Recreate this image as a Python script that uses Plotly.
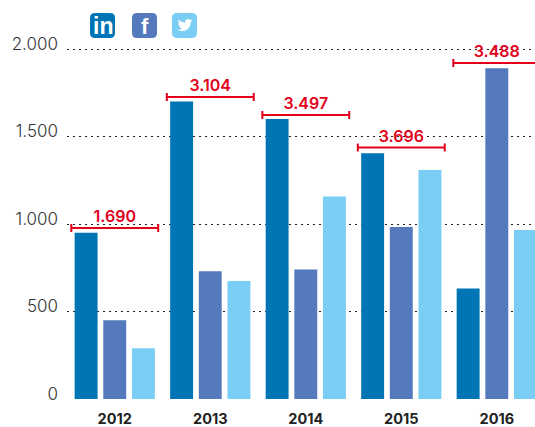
import plotly.graph_objects as go

years = [2012, 2013, 2014, 2015, 2016]
linkedin = [950, 1700, 1600, 1405, 632]
facebook = [450, 730, 740, 983, 1890]
twitter = [290, 674, 1157, 1308, 966]
totals = ["1.690", "3.104", "3.497", "3.696", "3.488"]
bracket_levels = [977, 1726, 1623, 1437, 1920]
y_ticks = [0, 500, 1000, 1500, 2000]
y_tick_labels = ["0", "500", "1.000", "1.500", "2.000"]

W, H = 535, 427
L, B = 67, 28
FONT = "Inter"
RED = "#e2001a"
DARK, MID, LIGHT = "#0075b5", "#547abd", "#7bcef3"


def fx(x):
    return (x - L) / (W - L)


def fy(y):
    return (H - B - y) / (H - B)


def px(x, y):
    return f"{fx(x):.5f},{fy(y):.5f}"


def rounded(x0, y0, size, r):
    x1, y1 = x0 + size, y0 + size
    return (f"M{px(x0 + r, y0)} L{px(x1 - r, y0)} Q{px(x1, y0)} {px(x1, y0 + r)} "
            f"L{px(x1, y1 - r)} Q{px(x1, y1)} {px(x1 - r, y1)} "
            f"L{px(x0 + r, y1)} Q{px(x0, y1)} {px(x0, y1 - r)} "
            f"L{px(x0, y0 + r)} Q{px(x0, y0)} {px(x0 + r, y0)} Z")


bird = [(23.95, 4.57), (21.13, 5.35), (23.29, 2.62), (20.17, 3.81), (18.4, 2.6), (16.5, 2.3), (14.2, 3.1),
        (12.4, 5.0), (11.78, 8.29), (7.7, 7.2), (4.2, 5.4), (1.64, 3.16), (0.97, 5.64), (3.16, 9.73), (0.93, 9.12),
        (1.5, 11.7), (4.88, 14.0), (2.67, 14.09), (4.3, 16.3), (7.27, 17.5), (4.4, 19.1), (1.17, 19.6), (0, 19.54),
        (3.6, 21.2), (7.56, 21.75), (13.2, 20.6), (17.6, 17.0), (20.6, 12.2), (21.55, 7.5)]
bird_path = "M" + " L".join(px(177.5 + bx * 15 / 24, 17.5 + by * 15 / 24) for bx, by in bird) + " Z"

fig = go.Figure()
for name, vals, col in [("LinkedIn", linkedin, DARK), ("Facebook", facebook, MID), ("Twitter", twitter, LIGHT)]:
    fig.add_bar(x=years, y=vals, name=name, marker=dict(color=col, line_width=0))

fig.add_scatter(
    x=years, y=bracket_levels, mode="markers+text", text=totals, textposition="top center",
    marker=dict(size=1, opacity=0),
    textfont=dict(family=FONT, size=16, color=RED, weight=600),
    error_x=dict(type="constant", value=0.455, color=RED, thickness=2, width=4),
    hoverinfo="skip",
)

shapes = [
    dict(type="path", xref="paper", yref="paper", path=rounded(90, 13, 25, 5), fillcolor=DARK, line_width=0),
    dict(type="path", xref="paper", yref="paper", path=rounded(132, 13, 25, 5), fillcolor=MID, line_width=0),
    dict(type="path", xref="paper", yref="paper", path=rounded(172, 13, 25, 5), fillcolor=LIGHT, line_width=0),
    dict(type="path", xref="paper", yref="paper", path=bird_path, fillcolor="white", line_width=0),
]
annotations = [
    dict(x=fx(102.5), y=fy(26), xref="paper", yref="paper", text="<b>in</b>", showarrow=False,
         font=dict(family="Liberation Sans", size=23, color="white"), xanchor="center", yanchor="middle"),
    dict(x=fx(144.5), y=fy(26), xref="paper", yref="paper", text="<b>f</b>", showarrow=False,
         font=dict(family="Liberation Sans", size=22, color="white"), xanchor="center", yanchor="middle"),
]

fig.update_layout(
    width=W, height=H, margin=dict(l=L, r=0, t=0, b=B, autoexpand=False),
    barmode="group", bargap=0.1, bargroupgap=0.2, showlegend=False,
    plot_bgcolor="white", paper_bgcolor="white", shapes=shapes, annotations=annotations,
    xaxis=dict(range=[2011.5, 2016.4], tickvals=years, showgrid=False, showline=False, zeroline=False, ticks="",
               tickfont=dict(family=FONT, size=14.5, color="#222222", weight=700), ticklabelstandoff=9),
    yaxis=dict(range=[0, 2280], tickvals=y_ticks, ticktext=y_tick_labels, showgrid=True,
               griddash="1.5px,4.5px", gridcolor="#222222", gridwidth=1.2, zeroline=False, showline=False, ticks="",
               tickfont=dict(family=FONT, size=17, color="#333333", weight=300), ticklabelstandoff=8, ticklabelshift=-5),
)
fig.write_html("out.html", config={"displayModeBar": False}, post_script="document.body.style.margin='0';")
